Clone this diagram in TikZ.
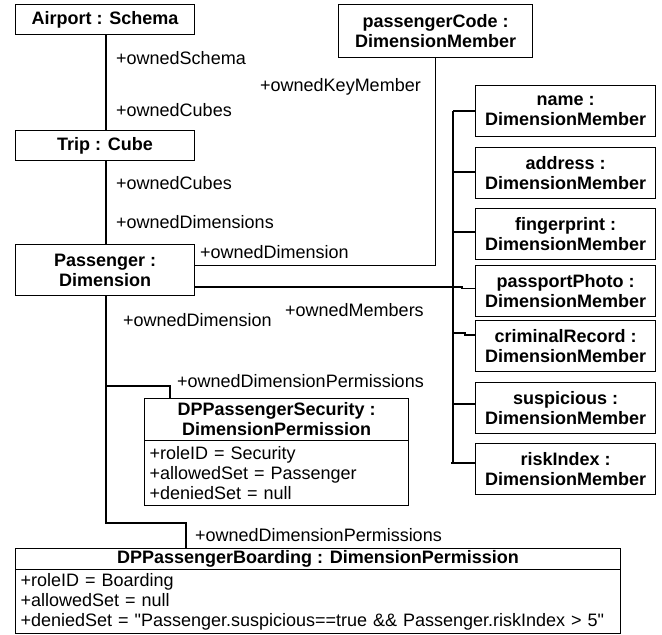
\documentclass[tikz,border=0pt]{standalone}
\usepackage{fontspec}
\setmainfont{Liberation Sans}[Ligatures=TeXOff]
\usetikzlibrary{calc}
\begin{document}
\begin{tikzpicture}[x=1pt,y=-1pt,
  every node/.style={font=\fontsize{18}{20}\selectfont},
  line/.style={line width=1.1pt},
  obj/.style={draw,line width=1.1pt,anchor=north west,inner sep=0pt,align=center,font=\fontsize{18}{20}\selectfont\bfseries},
  attrs/.style={draw,line width=1.1pt,anchor=north west,inner xsep=5pt,inner ysep=0pt,align=left},
  role/.style={anchor=west,inner sep=0pt}]
\useasboundingbox (0,0) rectangle (662,635);

% schema, cube and dimension
\node[obj,minimum width=179pt,minimum height=30pt] (airport) at (15,4) {Airport : Schema};
\node[obj,minimum width=179pt,minimum height=30pt] (trip) at (15,130) {Trip : Cube};
\node[obj,minimum width=179pt,minimum height=51pt] (passenger) at (15,244) {Passenger :\\Dimension};
\node[obj,minimum width=194pt,minimum height=53pt] (pcode) at (338,4) {passengerCode :\\DimensionMember};

% dimension members
\foreach \nm/\lbl/\top in {name/name/85,address/address/147,finger/fingerprint/208,
    photo/passportPhoto/265,criminal/criminalRecord/320,suspicious/suspicious/382,risk/riskIndex/443}
  \node[obj,minimum width=180pt,minimum height=51pt] (\nm) at (475,\top) {\lbl\ :\\DimensionMember};

% permissions
\node[obj,minimum width=264pt,minimum height=42pt] (secT) at (144,398) {DPPassengerSecurity :\\DimensionPermission};
\node[attrs,text width=254pt,minimum height=65pt] (secA) at (144,440) {\strut+roleID = Security\\+allowedSet = Passenger\\+deniedSet = null};
\node[obj,minimum width=605pt,minimum height=21pt] (boardT) at (15,548) {DPPassengerBoarding : DimensionPermission};
\node[attrs,text width=595pt,minimum height=64pt] (boardA) at (15,569) {\strut+roleID = Boarding\\+allowedSet = null\\+deniedSet = "Passenger.suspicious==true \&\& Passenger.riskIndex > 5"};

% connectors
\coordinate (spine) at (106,0);
\coordinate (busTop) at (453,111);
\coordinate (busBot) at (453,463);
\draw[line] (spine |- airport.south) -- (spine |- trip.north);
\draw[line] (spine |- trip.south) -- (spine |- passenger.north);
\draw[line] ($(passenger.east)+(0,-4.5)$) -| (pcode.south);
\draw[line] (busTop) -- (busBot);
\draw[line] (busTop) -- (name.west |- busTop);
\draw[line] (busTop |- 0,172) -- (address.west |- 0,172);
\draw[line] (busTop |- 0,232) -- (finger.west |- 0,232);
\draw[line] (passenger.east |- 0,287) -- (462,287) -- (462,288.5) -- (photo.west |- 0,288.5);
\draw[line] (busTop |- 0,333) -- (465,333) -- (465,335) -- (criminal.west |- 0,335);
\draw[line] (busTop |- 0,404) -- (suspicious.west |- 0,404);
\draw[line] (451,463) -- (risk.west |- 0,463);
\draw[line] (spine |- passenger.south) |- (186,523) -- (boardT.north -| 186,0);
\draw[line] (spine |- 0,386) -| (secT.north -| 170,0);

% role names
\node[role] (r1) at (116,58) {+ownedSchema};
\node[role] (r2) at (116,110) {+ownedCubes};
\node[role] (r3) at (116,183) {+ownedCubes};
\node[role] (r4) at (116,222) {+ownedDimensions};
\node[role] (r5) at (260,87) {+ownedKeyMember};
\node[role] (r6) at (200,252) {+ownedDimension};
\node[role] (r7) at (285,310) {+ownedMembers};
\node[role] (r8) at (123,320) {+ownedDimension};
\node[role] (r9) at (177,381) {+ownedDimensionPermissions};
\node[role] (r10) at (195,535) {+ownedDimensionPermissions};
\end{tikzpicture}
\end{document}
